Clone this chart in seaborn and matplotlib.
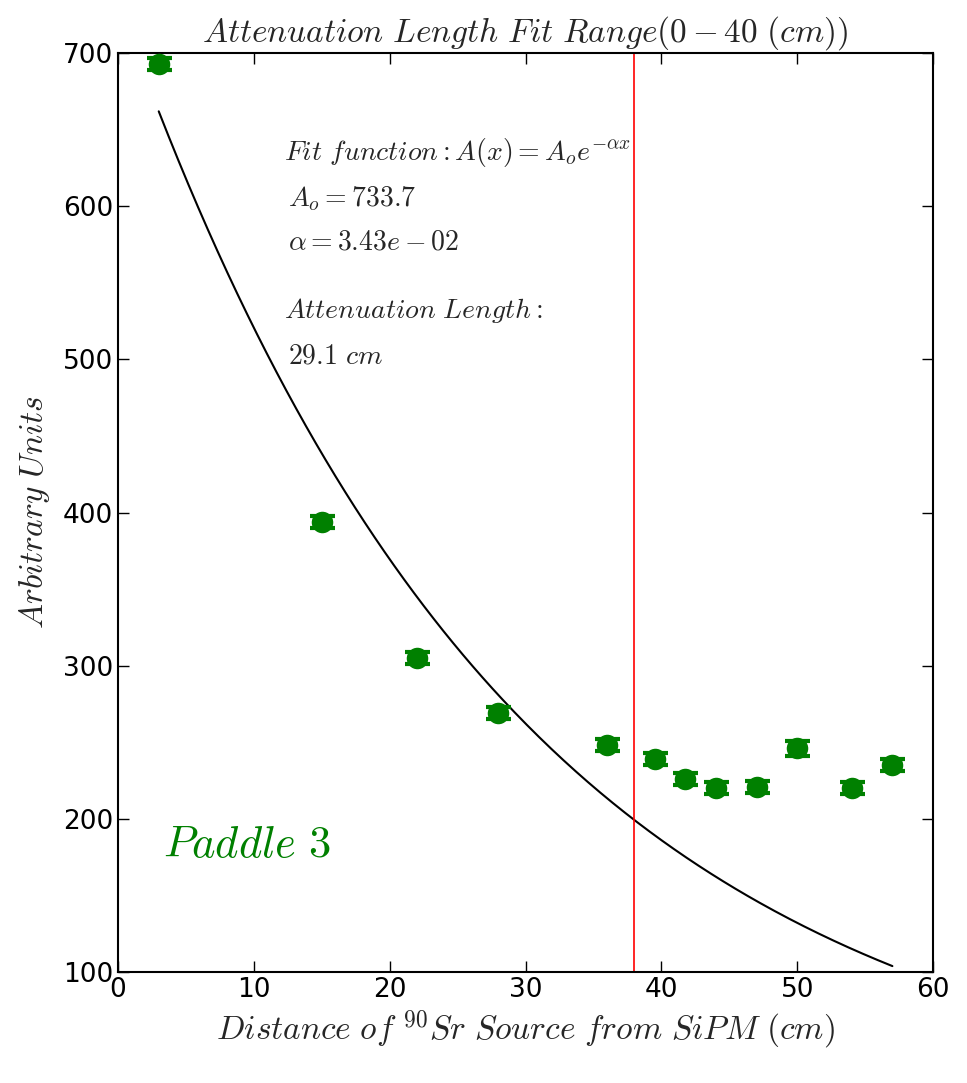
import numpy as np
import pandas as pd
import matplotlib.pyplot as plt
import seaborn as sns

distance = [3, 15, 22, 28, 36, 39.5, 41.7, 44, 47, 50, 54, 57]
signal = [693, 394, 305, 269, 248, 239, 226, 220, 221, 246, 220, 235]
signal_err = [4, 4, 4, 4, 4, 4, 4, 4, 4, 5, 4, 4]

# Fit parameters shown on the chart
A0 = 733.7
alpha = 3.43e-02
fit_start, fit_end = 3, 57
cut_x = 38

sns.set_style("white")
plt.rcParams["mathtext.fontset"] = "cm"
plt.rcParams["font.family"] = ["DejaVu Sans"]

fig = plt.figure(figsize=(9.67, 10.83), dpi=100)
ax = fig.add_axes([0.122, 0.1025, 0.843, 0.8485])

# fit curve
xs = np.linspace(fit_start, fit_end, 300)
fit = pd.DataFrame({"x": xs, "y": A0 * np.exp(-alpha * xs)})
sns.lineplot(data=fit, x="x", y="y", color="black", lw=1.5, ax=ax)

# data with error bars
data = pd.DataFrame({"d": distance, "s": signal, "e": signal_err})
ax.errorbar(data["d"], data["s"], yerr=data["e"], fmt="none", ecolor="green",
            elinewidth=2, capsize=9, capthick=3, zorder=3)
sns.scatterplot(data=data, x="d", y="s", color="green", s=240,
                edgecolor="green", linewidth=0, ax=ax, zorder=4)

ax.axvline(cut_x, color="red", lw=1.2)

ax.set_xlim(0, 60)
ax.set_ylim(100, 700)
ax.set_xticks(range(0, 61, 10))
ax.set_yticks(range(100, 701, 100))
ax.tick_params(direction="in", length=8, width=1, top=True, right=True,
               bottom=True, left=True, labelsize=19, labelcolor="black",
               color="black")
for s in ax.spines.values():
    s.set_linewidth(1.5)
    s.set_color("black")

ax.set_title(r"$Attenuation\ Length\ Fit\ Range(0-40\ (cm))$", fontsize=24, pad=8)
ax.set_xlabel(r"$Distance\ of\ ^{90}Sr\ Source\ from\ SiPM\ (cm)$", fontsize=24)
ax.set_ylabel(r"$Arbitrary\ Units$", fontsize=24, labelpad=8)

ax.text(12.2, 630, r"$Fit\ function: A(x) = A_o e^{-\alpha x}$", fontsize=20)
ax.text(12.5, 600, r"$A_o = 733.7$", fontsize=20)
ax.text(12.5, 572, r"$\alpha = 3.43e-02$", fontsize=20)
ax.text(12.2, 527, r"$Attenuation\ Length:$", fontsize=20)
ax.text(12.5, 497, r"$29.1\ cm$", fontsize=20)

ax.text(3.3, 175, r"$Paddle\ 3$", fontsize=32, color="green")

fig.savefig("out.png", dpi=100)
